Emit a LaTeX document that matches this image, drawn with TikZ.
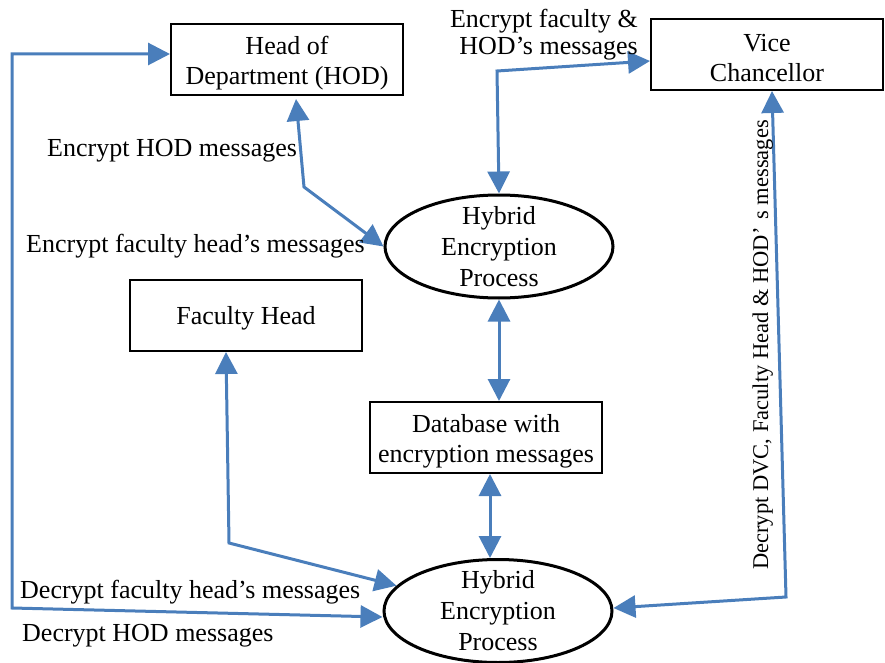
\documentclass[tikz,border=0pt]{standalone}
\usepackage{fontspec}
\setmainfont{Liberation Serif}
\usetikzlibrary{arrows.meta,shapes.geometric,calc}
\definecolor{linkblue}{RGB}{74,126,187}
\begin{document}
\begin{tikzpicture}[x=1pt,y=-1pt,
  box/.style={draw=black,line width=2pt,minimum width=232pt,minimum height=71pt,inner sep=0pt},
  boxtext/.style={inner sep=0pt,align=center,font=\fontsize{26}{30}\selectfont},
  proc/.style={draw=black,line width=3pt,ellipse,minimum width=228pt,minimum height=103pt,
    inner xsep=0pt,inner ysep=-8pt,align=center,font=\fontsize{26}{31}\selectfont},
  lbl/.style={inner sep=0pt,font=\fontsize{26}{30}\selectfont},
  lblside/.style={inner sep=0pt,font=\fontsize{22.5}{27}\selectfont},
  link/.style={draw=linkblue,line width=3pt,
    {Triangle[length=22pt,width=22pt]}-{Triangle[length=22pt,width=22pt]}}
]
\useasboundingbox (0,0) rectangle (885,663);

% actors and the database
\node[box] (hod) at (287,59.5) {};
\node[boxtext] (hodt) at ([yshift=-4pt]hod.center) {Head of\\Department (HOD)};
\node[box] (vc) at (767,54.5) {};
\node[boxtext] (vct) at ([yshift=-4pt]vc.center) {Vice\\Chancellor};
\node[box] (fh) at (246,315.5) {};
\node[boxtext] (fht) at ([yshift=-3pt]fh.center) {Faculty Head};
\node[box] (db) at (486,437.5) {};
\node[boxtext] (dbt) at ([yshift=-4pt]db.center) {Database with\\encryption messages};

% encryption processes
\node[proc] (top) at (499,246.5) {Hybrid\\Encryption\\Process};
\node[proc] (bot) at (498,611) {Hybrid\\Encryption\\Process};

% bend points of the connectors
\coordinate (lt) at (12,54);
\coordinate (lb) at (12,608);
\coordinate (kh) at (304,187);
\coordinate (kv) at (497,71);
\coordinate (kr) at (786,597);
\coordinate (kf) at (229,543);

% connectors
\draw[link] ([yshift=5.5pt]hod.west) -- (lt) -- (lb) -- ([yshift=-6pt]bot.west);
\draw[link] ([shift={(9pt,-3pt)}]hod.south) -- (kh) -- (top.west);
\draw[link] (top.north) -- (kv) -- ([yshift=-6.5pt]vc.west);
\draw[link] ([xshift=5pt]vc.south) -- (kr) -- ([yshift=3pt]bot.east);
\draw[link] (top.south) -- (top.south |- db.north);
\draw[link] ([xshift=4pt]db.south) -- ([xshift=-8pt]bot.north);
\draw[link] ([xshift=-20pt]fh.south) -- (kf) -- (bot.166);

% connector labels
\node[lbl,anchor=base west] (l1) at (47,157) {Encrypt HOD messages};
\node[lbl,anchor=base west] (l2) at (26,252) {Encrypt faculty head’s messages};
\node[lbl,anchor=base east] (l3a) at (638,28) {Encrypt faculty \&};
\node[lbl,anchor=base east] (l3b) at (638,55) {HOD’s messages};
\node[lbl,anchor=base west] (l4) at (20,598) {Decrypt faculty head’s messages};
\node[lbl,anchor=base west] (l5) at (22,641) {Decrypt HOD messages};
\node[lblside,rotate=90,anchor=base west] (l6) at (768,570)
  {Decrypt DVC, Faculty Head \& HOD’\hspace{8pt}s messages};
\end{tikzpicture}
\end{document}
